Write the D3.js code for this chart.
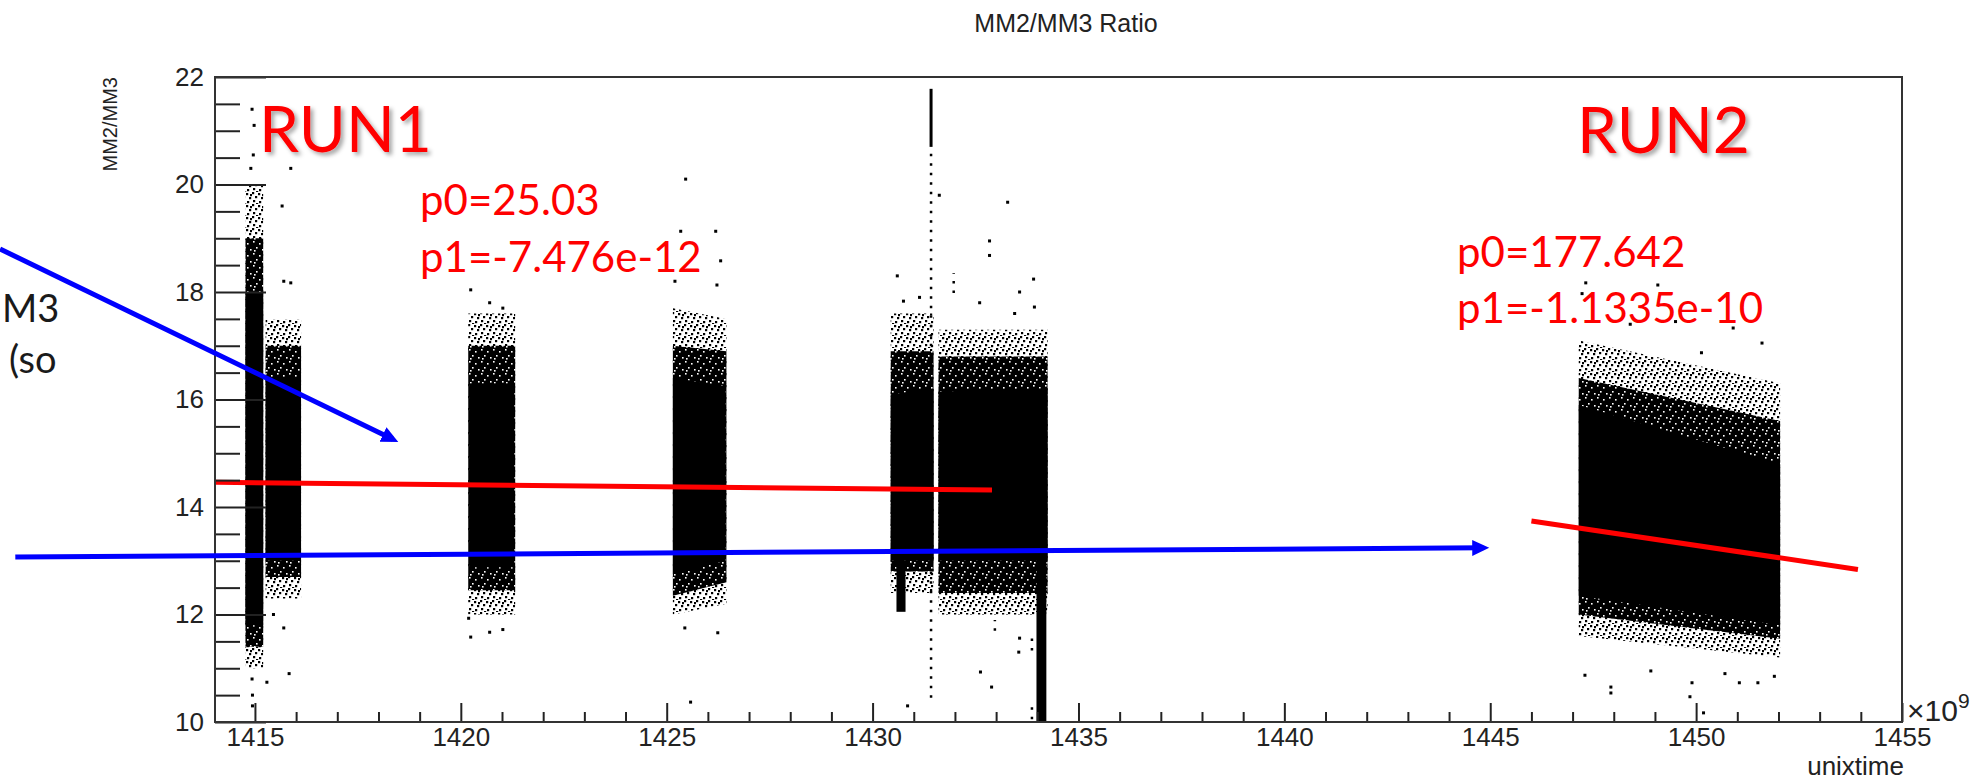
<!DOCTYPE html>
<html>
<head>
<meta charset="utf-8">
<script src="https://cdn.jsdelivr.net/npm/d3@7"></script>
<style>
  html, body { margin: 0; padding: 0; background: #fff; }
  svg { display: block; }
  .axis text { font-family: "Liberation Sans", Arial, sans-serif; font-size: 26px; fill: #222; }
  .axis line { stroke: #222; stroke-width: 2; }
  .axis path { display: none; }
  .slide { font-family: Lato, "Open Sans", sans-serif; }
</style>
</head>
<body>
<svg id="chart" width="1977" height="781"></svg>
<script>
// unixtime is in units of 1e9 s, y is the MM2/MM3 ratio
var xTicks = [1415, 1420, 1425, 1430, 1435, 1440, 1445, 1450, 1455];
var yTicks = [10, 12, 14, 16, 18, 20, 22];

// dense part of each data taking block: [tStart, tEnd, lowStart, lowEnd, highStart, highEnd]
var run1Core = [
    [1414.77, 1415.20, 11.80, 11.80, 18.00, 18.00],
    [1415.26, 1416.10, 13.00, 13.00, 16.40, 16.40],
    [1420.20, 1421.30, 12.88, 12.88, 16.30, 16.30],
    [1425.15, 1426.43, 12.75, 13.00, 16.40, 16.25],
    [1430.44, 1431.48, 13.00, 13.00, 16.10, 16.20],
    [1430.58, 1430.80, 12.05, 12.05, 13.00, 13.00],
    [1431.60, 1434.25, 13.00, 13.00, 16.15, 16.20],
    [1433.98, 1434.22, 10.00, 10.00, 16.20, 16.20]
];
var run2Core = [
    [1447.15, 1452.04, 12.35, 11.80, 15.90, 14.80]
];

// rough edge close to each block, same layout
var run1Edge = [
    [1414.77, 1415.20, 11.40, 11.40, 19.00, 19.00],
    [1415.26, 1416.12, 12.70, 12.70, 17.00, 17.00],
    [1420.18, 1421.32, 12.45, 12.45, 17.00, 17.00],
    [1425.15, 1426.45, 12.35, 12.60, 17.00, 16.90],
    [1430.44, 1431.48, 12.80, 12.80, 16.90, 16.90],
    [1431.60, 1434.25, 12.40, 12.40, 16.80, 16.80]
];
var run2Edge = [
    [1447.15, 1452.04, 12.00, 11.55, 16.40, 15.60]
];

// thin scatter further out, same layout
var run1Halo = [
    [1414.77, 1415.20, 11.00, 11.00, 20.00, 20.00],
    [1415.26, 1416.12, 12.30, 12.30, 17.50, 17.50],
    [1420.18, 1421.32, 12.00, 12.00, 17.60, 17.60],
    [1425.15, 1426.45, 12.00, 12.20, 17.70, 17.50],
    [1430.44, 1431.48, 12.40, 12.40, 17.60, 17.60],
    [1431.60, 1434.25, 12.00, 12.00, 17.30, 17.30]
];
var run2Halo = [
    [1447.15, 1452.04, 11.60, 11.20, 17.10, 16.30]
];

// single points far from the blocks: [t, ratio]
var run1Outliers = [
    [1414.93, 21.40], [1414.98, 21.10], [1414.96, 20.55], [1414.90, 20.30],
    [1415.87, 20.30], [1415.66, 19.60], [1415.70, 18.20], [1415.87, 18.17],
    [1414.93, 10.80], [1415.29, 10.74], [1415.83, 10.90], [1414.94, 10.50], [1414.94, 10.30],
    [1415.45, 12.00], [1415.70, 11.75],
    [1420.24, 18.04], [1420.70, 17.80], [1421.02, 17.70],
    [1420.19, 11.93], [1420.24, 11.58], [1420.70, 11.67], [1421.02, 11.72],
    [1425.46, 20.10], [1425.34, 19.13], [1426.19, 19.13], [1426.31, 18.58], [1426.22, 18.13],
    [1425.20, 18.20], [1425.44, 11.75], [1425.58, 10.37], [1426.24, 11.66],
    [1430.60, 18.30], [1430.75, 17.83], [1431.14, 17.90], [1431.62, 19.80], [1432.60, 17.80],
    [1432.84, 18.95], [1432.84, 18.68], [1433.28, 19.67], [1433.57, 18.00], [1433.91, 18.24],
    [1433.93, 17.72], [1433.45, 17.60],
    [1432.62, 10.93], [1432.89, 10.65], [1433.57, 11.56], [1433.55, 11.30], [1430.85, 10.30]
];
var run2Outliers = [
    [1447.32, 18.17], [1449.07, 18.13], [1447.23, 17.97], [1450.90, 17.33], [1451.60, 17.05],
    [1450.13, 16.87], [1448.40, 17.40], [1449.50, 17.45],
    [1447.30, 10.87], [1447.93, 10.65], [1447.93, 10.54], [1449.85, 10.47], [1449.90, 10.73],
    [1450.18, 10.17], [1451.05, 10.73], [1451.50, 10.73], [1450.70, 10.90], [1451.90, 10.85],
    [1448.90, 10.95]
];

// thin vertical runs of points: [t, low, high]
var solidStreaks = [[1431.42, 20.70, 21.78]];
var dottedStreaks = [
    [1431.42, 10.45, 20.70], [1431.97, 17.98, 18.35], [1432.97, 11.70, 11.90],
    [1433.87, 11.33, 11.60], [1433.87, 10.05, 10.35]
];

// straight line fits, y = p0 + p1 * unixtime
var fitP0 = [25.03, 177.642];
var fitP1 = [-7.476e-12, -1.1335e-10];
var fitFrom = [1414.05, 1446.00];
var fitTo = [1432.90, 1453.93];

// arrows drawn over the slide
var arrowFrom = [[1408.81, 18.80], [1409.18, 13.07]];
var arrowTo = [[1418.35, 15.26], [1444.83, 13.24]];

var svg = d3.select("#chart");

var x = d3.scaleLinear().domain([1414.03, 1455]).range([215, 1902]);
var y = d3.scaleLinear().domain([10, 22]).range([722, 77]);

var defs = svg.append("defs");

// near solid speckle: black with a few holes
var dense = defs.append("pattern")
    .attr("id", "dense")
    .attr("patternUnits", "userSpaceOnUse")
    .attr("width", 12)
    .attr("height", 12);
dense.append("rect").attr("width", 12).attr("height", 12).attr("fill", "#000");
[[1, 1], [7, 3], [4, 7], [10, 9], [2, 10]].forEach(function(p) {
    dense.append("rect").attr("x", p[0]).attr("y", p[1])
        .attr("width", 1.6).attr("height", 1.6).attr("fill", "#fff");
});

// loose speckle
var loose = defs.append("pattern")
    .attr("id", "loose")
    .attr("patternUnits", "userSpaceOnUse")
    .attr("width", 12)
    .attr("height", 12);
[[0, 0], [6, 1], [3, 4], [9, 5], [1, 8], [7, 9], [4, 11], [10, 2]].forEach(function(p) {
    loose.append("rect").attr("x", p[0]).attr("y", p[1])
        .attr("width", 2.2).attr("height", 2.2).attr("fill", "#000");
});

defs.append("clipPath").attr("id", "frameclip")
  .append("rect")
    .attr("x", x.range()[0])
    .attr("y", y.range()[1])
    .attr("width", x.range()[1] - x.range()[0])
    .attr("height", y.range()[0] - y.range()[1]);

var shadow = defs.append("filter").attr("id", "shadow")
    .attr("x", "-10%").attr("y", "-10%").attr("width", "130%").attr("height", "140%");
shadow.append("feDropShadow")
    .attr("dx", 3).attr("dy", 3).attr("stdDeviation", 2)
    .attr("flood-color", "#000").attr("flood-opacity", 0.35);

defs.append("marker")
    .attr("id", "head")
    .attr("markerUnits", "userSpaceOnUse")
    .attr("viewBox", "0 -9 18 18")
    .attr("markerWidth", 18)
    .attr("markerHeight", 18)
    .attr("refX", 11)
    .attr("refY", 0)
    .attr("orient", "auto")
  .append("path")
    .attr("d", "M0,-8L17,0L0,8Z")
    .attr("fill", "#0000ff");

// slide text partly hidden by the plot
svg.append("text").attr("class", "slide")
    .attr("x", 2).attr("y", 322)
    .attr("font-size", 38)
    .attr("fill", "#1a1a1a")
    .text("M3");
svg.append("text").attr("class", "slide")
    .attr("x", 9).attr("y", 373)
    .attr("font-size", 38)
    .attr("fill", "#1a1a1a")
    .text("(so");

// title
svg.append("text")
    .attr("x", 1066).attr("y", 32)
    .attr("text-anchor", "middle")
    .attr("font-family", "Liberation Sans, Arial, sans-serif")
    .attr("font-size", 25)
    .attr("fill", "#222")
    .text("MM2/MM3 Ratio");

var plot = svg.append("g").attr("clip-path", "url(#frameclip)");

function poly(s) {
    return [
        [x(s[0]), y(s[4])],
        [x(s[1]), y(s[5])],
        [x(s[1]), y(s[3])],
        [x(s[0]), y(s[2])]
    ].join(" ");
}

plot.selectAll(".halo")
    .data(run1Halo.concat(run2Halo))
  .enter().append("polygon")
    .attr("class", "halo")
    .attr("points", poly)
    .attr("fill", "url(#loose)");

plot.selectAll(".edge")
    .data(run1Edge.concat(run2Edge))
  .enter().append("polygon")
    .attr("class", "edge")
    .attr("points", poly)
    .attr("fill", "url(#dense)");

plot.selectAll(".core")
    .data(run1Core.concat(run2Core))
  .enter().append("polygon")
    .attr("class", "core")
    .attr("points", poly)
    .attr("fill", "#000");

plot.selectAll(".solid")
    .data(solidStreaks)
  .enter().append("line")
    .attr("x1", function(d) { return x(d[0]) })
    .attr("x2", function(d) { return x(d[0]) })
    .attr("y1", function(d) { return y(d[1]) })
    .attr("y2", function(d) { return y(d[2]) })
    .attr("stroke", "#000")
    .attr("stroke-width", 3);

plot.selectAll(".dotted")
    .data(dottedStreaks)
  .enter().append("line")
    .attr("x1", function(d) { return x(d[0]) })
    .attr("x2", function(d) { return x(d[0]) })
    .attr("y1", function(d) { return y(d[1]) })
    .attr("y2", function(d) { return y(d[2]) })
    .attr("stroke", "#000")
    .attr("stroke-width", 2.5)
    .attr("stroke-dasharray", "2.5 7");

plot.selectAll(".pt")
    .data(run1Outliers.concat(run2Outliers))
  .enter().append("rect")
    .attr("class", "pt")
    .attr("x", function(d) { return x(d[0]) - 1.5 })
    .attr("y", function(d) { return y(d[1]) - 1.5 })
    .attr("width", 3)
    .attr("height", 3)
    .attr("fill", "#000");

// fit lines
var fitLine = d3.line()
    .x(function(d) { return x(d[0]) })
    .y(function(d) { return y(d[1]) });

fitP0.forEach(function(p0, i) {
    var ends = [fitFrom[i], fitTo[i]].map(function(t) {
        return [t, p0 + fitP1[i] * t * 1e9];
    });
    plot.append("path")
        .attr("d", fitLine(ends))
        .attr("fill", "none")
        .attr("stroke", "#ff0000")
        .attr("stroke-width", 5);
});

// axes, ticks inside the frame like ROOT
svg.append("g")
    .attr("class", "axis")
    .attr("transform", "translate(0," + y.range()[0] + ")")
    .call(d3.axisBottom(x)
        .tickValues(xTicks)
        .tickSizeInner(-19)
        .tickSizeOuter(0)
        .tickPadding(6)
        .tickFormat(d3.format("d")));

svg.append("g")
    .attr("class", "axis")
    .attr("transform", "translate(0," + y.range()[0] + ")")
    .call(d3.axisBottom(x)
        .tickValues(d3.range(1415, 1455).filter(function(v) { return v % 5 != 0 }))
        .tickSizeInner(-10)
        .tickSizeOuter(0)
        .tickFormat(""));

svg.append("g")
    .attr("class", "axis")
    .attr("transform", "translate(" + x.range()[0] + ",0)")
    .call(d3.axisLeft(y)
        .tickValues(yTicks)
        .tickSizeInner(-51)
        .tickSizeOuter(0)
        .tickPadding(11)
        .tickFormat(d3.format("d")));

svg.append("g")
    .attr("class", "axis")
    .attr("transform", "translate(" + x.range()[0] + ",0)")
    .call(d3.axisLeft(y)
        .tickValues(d3.range(10.5, 22, 0.5).filter(function(v) { return v % 2 != 0 }))
        .tickSizeInner(-25)
        .tickSizeOuter(0)
        .tickFormat(""));

svg.append("rect")
    .attr("x", x.range()[0])
    .attr("y", y.range()[1])
    .attr("width", x.range()[1] - x.range()[0])
    .attr("height", y.range()[0] - y.range()[1])
    .attr("fill", "none")
    .attr("stroke", "#333")
    .attr("stroke-width", 2);

var exp = svg.append("text")
    .attr("x", 1907).attr("y", 721)
    .attr("font-family", "Liberation Sans, Arial, sans-serif")
    .attr("font-size", 30)
    .attr("fill", "#222");
exp.append("tspan").text("\u00d710");
exp.append("tspan").attr("dy", -13).attr("font-size", 21).text("9");

svg.append("text")
    .attr("x", 1904).attr("y", 775)
    .attr("text-anchor", "end")
    .attr("font-family", "Liberation Sans, Arial, sans-serif")
    .attr("font-size", 26)
    .attr("fill", "#222")
    .text("unixtime");

svg.append("text")
    .attr("transform", "translate(117,77) rotate(-90)")
    .attr("text-anchor", "end")
    .attr("font-family", "Liberation Sans, Arial, sans-serif")
    .attr("font-size", 20)
    .attr("fill", "#222")
    .text("MM2/MM3");

// red slide annotations
function redText(px, py, size, str, shade) {
    var t = svg.append("text").attr("class", "slide")
        .attr("x", px).attr("y", py)
        .attr("font-size", size)
        .attr("fill", "#ff0000")
        .text(str);
    if (shade) t.attr("filter", "url(#shadow)");
}
redText(259, 152, 64, "RUN1", true);
redText(1577, 153, 64, "RUN2", true);
redText(420, 215, 42, "p0=25.03");
redText(420, 272, 42, "p1=-7.476e-12");
redText(1457, 267, 42, "p0=177.642");
redText(1457, 323, 42, "p1=-1.1335e-10");

// blue arrows
svg.selectAll(".arrow")
    .data(arrowFrom)
  .enter().append("line")
    .attr("class", "arrow")
    .attr("x1", function(d) { return x(d[0]) })
    .attr("y1", function(d) { return y(d[1]) })
    .attr("x2", function(d, i) { return x(arrowTo[i][0]) })
    .attr("y2", function(d, i) { return y(arrowTo[i][1]) })
    .attr("stroke", "#0000ff")
    .attr("stroke-width", 5)
    .attr("marker-end", "url(#head)");
</script>
</body>
</html>
